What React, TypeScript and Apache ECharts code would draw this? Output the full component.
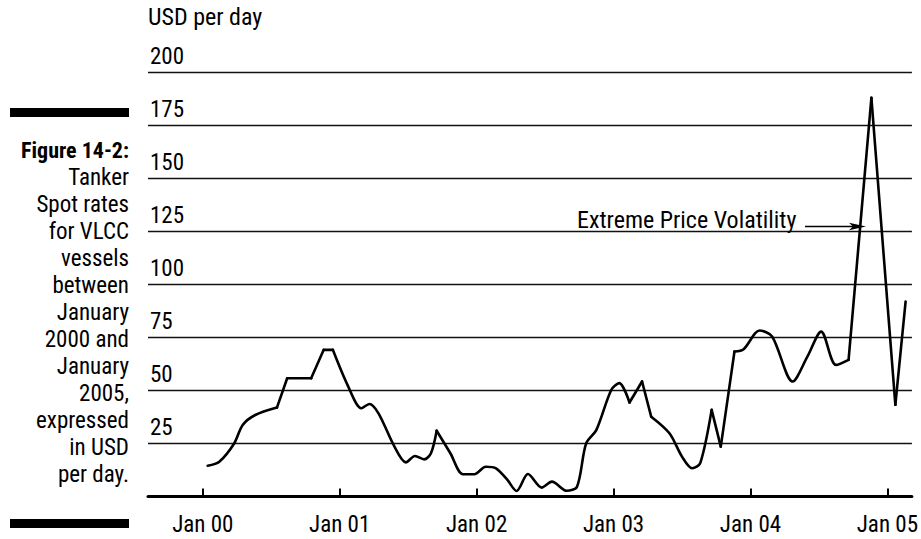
import React, { useEffect, useRef } from "react";
import * as echarts from "echarts";

// Months since Jan 2000
const months = [
  0.43, 1.45, 2.75, 3.5, 4.6, 6.5, 7.4, 9.5, 10.6, 11.4, 12.75, 13.9, 14.6, 15.4,
  16.8, 17.8, 18.6, 19.4, 20.0, 20.5, 21.7, 22.8, 23.8, 24.8, 25.7, 26.7, 27.5,
  28.5, 29.7, 30.6, 31.9, 32.8, 33.6, 34.5, 35.8, 36.5, 37.4, 38.5, 39.3, 40.9,
  42.0, 42.9, 43.6, 44.6, 45.4, 46.6, 47.4, 48.8, 49.9, 51.7, 53.0, 54.2, 55.5,
  56.6, 58.6, 60.7, 61.6,
];
// USD per day
const rates = [
  14.5, 16.4, 25, 33.7, 38.4, 41.9, 55.7, 55.7, 69.1, 69.1, 51.8, 41.6, 43.6, 39.2,
  23.5, 16.1, 19.1, 17.5, 20.4, 31, 20.4, 10.5, 10.5, 14, 13.3, 7.8, 2.6,
  10.6, 4.2, 7, 2.7, 4.6, 25, 31.4, 50.2, 53.4, 44.3, 54.2, 37.6, 29.8,
  18.8, 13.3, 15.7, 40.8, 23.5, 68.3, 69.4, 78.2, 75.4, 54.2, 66, 77.7, 62,
  64.4, 187.8, 43.2, 91.9,
];
// indices of points where the curve has a sharp corner
const cornerIdx = [5, 6, 7, 8, 9, 19, 36, 37, 38, 43, 44, 45, 53, 54, 55];

const xTickMonths = [0, 12, 24, 36, 48, 60];
const xTickLabels = ["Jan 00", "Jan 01", "Jan 02", "Jan 03", "Jan 04", "Jan 05"];
const yTicks = [0, 25, 50, 75, 100, 125, 150, 175, 200];

const captionTitle = "Figure 14-2:";
const captionLines = [
  "Tanker",
  "Spot rates",
  "for VLCC",
  "vessels",
  "between",
  "January",
  "2000 and",
  "January",
  "2005,",
  "expressed",
  "in USD",
  "per day.",
];
const yAxisTitle = "USD per day";
const annotationText = "Extreme Price Volatility";

const FONT = "Roboto Condensed, Roboto, sans-serif";
const FS = 23;

export default function App() {
  const ref = useRef<HTMLDivElement>(null);
  useEffect(() => {
    if (!ref.current) return;
    const chart = echarts.init(ref.current, null, { renderer: "svg" });
    const data = months.map((m, i) => [m, rates[i]]);
    const bounds = [0, ...cornerIdx, data.length - 1];
    const series: any[] = [];
    for (let k = 0; k < bounds.length - 1; k++) {
      const seg = data.slice(bounds[k], bounds[k + 1] + 1);
      series.push({
        type: "line",
        data: seg,
        smooth: seg.length > 2 ? 0.3 : false,
        symbol: "none",
        lineStyle: { color: "#000", width: 2.6, cap: "round", join: "miter" },
        z: 5,
      });
    }
    chart.setOption({
      animation: false,
      backgroundColor: "#ffffff",
      grid: { left: 148, right: 3, top: 72, bottom: 42.5, containLabel: false },
      xAxis: {
        type: "value",
        min: -4.8,
        max: 62.15,
        axisLine: { show: true, lineStyle: { color: "#000", width: 3 } },
        axisTick: {
          show: true,
          inside: true,
          length: 8,
          lineStyle: { color: "#000", width: 2 },
          customValues: xTickMonths,
        },
        axisLabel: {
          show: true,
          customValues: xTickMonths,
          margin: 16,
          color: "#000",
          fontFamily: FONT,
          fontSize: FS,
          formatter: (v: number) => {
            const i = xTickMonths.indexOf(Math.round(v));
            return i >= 0 ? xTickLabels[i] : "";
          },
        },
        splitLine: { show: false },
      },
      yAxis: {
        type: "value",
        min: 0,
        max: 200,
        interval: 25,
        axisLine: { show: false },
        axisTick: { show: false },
        axisLabel: {
          inside: true,
          margin: 2,
          verticalAlign: "bottom",
          padding: [0, 0, 4, 0],
          color: "#000",
          fontFamily: FONT,
          fontSize: FS,
          formatter: (v: number) => (v === 0 || yTicks.indexOf(v) < 0 ? "" : String(v)),
        },
        splitLine: { show: true, lineStyle: { color: "#111", width: 1.3 } },
      },
      series,
      graphic: [
        {
          type: "text",
          left: 148,
          top: 5,
          style: { text: yAxisTitle, fontFamily: FONT, fontSize: 24, fill: "#000" },
        },
        {
          type: "rect",
          shape: { x: 10, y: 108, width: 119, height: 9 },
          style: { fill: "#000" },
        },
        {
          type: "rect",
          shape: { x: 10, y: 519, width: 119, height: 9 },
          style: { fill: "#000" },
        },
        {
          type: "text",
          x: 129,
          y: 150,
          style: {
            text: captionTitle,
            fontFamily: FONT,
            fontSize: 22,
            fontWeight: "bold",
            fill: "#000",
            align: "right",
            verticalAlign: "middle",
          },
        },
        {
          type: "text",
          x: 129,
          y: 177 - 13.5,
          style: {
            text: captionLines.join("\n"),
            fontFamily: FONT,
            fontSize: FS,
            lineHeight: 27,
            fill: "#000",
            align: "right",
            verticalAlign: "top",
          },
        },
        {
          type: "text",
          x: 577,
          y: 219.5,
          style: {
            text: annotationText,
            fontFamily: FONT,
            fontSize: 24,
            fill: "#000",
            align: "left",
            verticalAlign: "middle",
          },
          z: 10,
        },
        {
          type: "line",
          shape: { x1: 805, y1: 226.5, x2: 853, y2: 226.5 },
          style: { stroke: "#000", lineWidth: 1.3 },
          z: 10,
        },
        {
          type: "polygon",
          shape: { points: [[866, 226.5], [849, 222.8], [853, 226.5], [849, 230.2]] },
          style: { fill: "#000" },
          z: 10,
        },
      ],
    });
    return () => chart.dispose();
  }, []);
  return (
    <div
      ref={ref}
      style={{ position: "fixed", left: 0, top: 0, width: 921, height: 539, background: "#fff" }}
    />
  );
}
